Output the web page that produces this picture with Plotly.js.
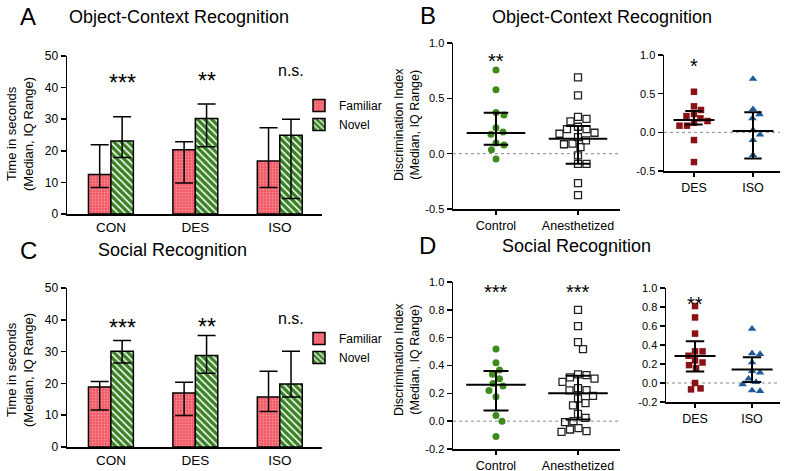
<!DOCTYPE html>
<html><head><meta charset="utf-8">
<script src="https://cdn.plot.ly/plotly-3.0.1.min.js"></script>
<style>html,body{margin:0;padding:0;background:#fff}#chart{width:786px;height:471px}</style>
</head><body><div id="chart"></div>
<script>
// ---------- DATA ----------
// Bar panels (A: Object-Context, C: Social) - median and IQ range
const barCats = ['CON', 'DES', 'ISO'];
const objFamMed = [12.5, 20.3, 16.8];
const objFamLo  = [8.4, 9.8, 8.4];
const objFamHi  = [21.9, 22.9, 27.3];
const objNovMed = [23.1, 30.2, 24.9];
const objNovLo  = [17.9, 21.3, 4.9];
const objNovHi  = [30.8, 34.8, 30.0];
const objSig    = ['***', '**', 'n.s.'];

const socFamMed = [18.9, 17.0, 15.7];
const socFamLo  = [11.6, 9.9, 11.2];
const socFamHi  = [20.6, 20.4, 23.8];
const socNovMed = [30.1, 28.8, 19.8];
const socNovLo  = [26.4, 23.2, 15.7];
const socNovHi  = [33.5, 35.1, 30.1];
const socSig    = ['***', '**', 'n.s.'];

// Discrimination index panels (B: Object-Context, D: Social)
const groupCatsL = ['Control', 'Anesthetized'];
const groupCatsR = ['DES', 'ISO'];

const objControl = [0.757, 0.577, 0.373, 0.349, 0.234, 0.195, 0.175, 0.096, 0.078, 0.036, -0.048];
const objAnest   = [0.69, 0.526, 0.333, 0.315, 0.292, 0.243, 0.222, 0.222, 0.189, 0.18, 0.15, 0.12, 0.09, 0.085, 0.06, -0.015, -0.093, -0.093, -0.267, -0.375];
const objDES     = [0.525, 0.336, 0.289, 0.237, 0.21, 0.181, 0.146, 0.125, 0.086, 0.086, -0.1, -0.384];
const objISO     = [0.69, 0.30, 0.233, 0.181, 0.03, -0.03, -0.1, -0.294];

const socControl = [0.518, 0.42, 0.367, 0.338, 0.305, 0.271, 0.252, 0.221, 0.175, 0.041, 0.0, -0.11];
const socAnest   = [0.80, 0.683, 0.568, 0.518, 0.336, 0.331, 0.314, 0.305, 0.283, 0.237, 0.223, 0.221, 0.182, 0.163, 0.129, 0.113, 0.053, 0.024, 0.0, -0.007, -0.05, -0.06, -0.072, -0.077];
const socDES     = [0.81, 0.69, 0.52, 0.333, 0.333, 0.287, 0.238, 0.216, 0.188, 0.156, 0.0, -0.057, -0.067];
const socISO     = [0.571, 0.312, 0.305, 0.216, 0.124, 0.11, 0.046, 0.01, -0.014, -0.078, -0.085];

// median, Q1, Q3 per group
const objMedL = [0.186, 0.135], objQ1L = [0.081, -0.09], objQ3L = [0.37, 0.25];
const objMedR = [0.159, 0.017], objQ1R = [0.10, -0.337], objQ3R = [0.276, 0.26];
const socMedL = [0.261, 0.201], socQ1L = [0.077, 0.012], socQ3L = [0.36, 0.326];
const socMedR = [0.284, 0.142], socQ1R = [0.12, 0.01], socQ3R = [0.44, 0.27];

const objSigL = ['**', ''], objSigR = ['*', ''];
const socSigL = ['***', '***'], socSigR = ['**', ''];

const ticksB = [-0.5, 0.0, 0.5, 1.0];
const ticksD = [-0.2, 0.0, 0.2, 0.4, 0.6, 0.8, 1.0];
const ticksBar = [0, 10, 20, 30, 40, 50];

// ---------- STYLE / LAYOUT ----------
const W = 786, H = 471;
const FONT = 'Liberation Sans, Arial, Helvetica, sans-serif';
const RED = '#f15b66', GREEN = '#3a8224', DOTGREEN = '#3f8a1c', DESRED = '#8a1215', ISOBLUE = '#1f5b9c';
const px = v => v / W;
const py = v => 1 - v / H;
const sub = (a, b) => a.map((v, i) => v - b[i]);

const traces = [];
const layout = {
  width: W, height: H, margin: {l: 0, r: 0, t: 0, b: 0},
  paper_bgcolor: '#fff', plot_bgcolor: 'rgba(0,0,0,0)',
  font: {family: FONT, color: '#000'},
  showlegend: true, shapes: [], annotations: []
};

function axes(n, box, xr, yr, xtv, xtt, ytv, xticks, xfont, yfont, ytt) {
  const xs = n === 1 ? 'xaxis' : 'xaxis' + n, ys = n === 1 ? 'yaxis' : 'yaxis' + n;
  const xid = n === 1 ? 'x' : 'x' + n, yid = n === 1 ? 'y' : 'y' + n;
  layout[xs] = {domain: [px(box[0]), px(box[1])], range: xr, anchor: yid,
    tickvals: xtv, ticktext: xtt, ticks: xticks, ticklen: 4, tickwidth: 1.5, tickcolor: '#000',
    showline: true, linewidth: 1.5, linecolor: '#000', showgrid: false, zeroline: false,
    tickfont: {size: xfont, color: '#000', family: FONT}, fixedrange: true};
  layout[ys] = {domain: [py(box[3]), py(box[2])], range: yr, anchor: xid,
    tickvals: ytv, ticktext: ytt, ticks: 'outside', ticklen: 5, tickwidth: 1.5, tickcolor: '#000',
    showline: true, linewidth: 1.5, linecolor: '#000', showgrid: false, zeroline: false,
    tickfont: {size: yfont, color: '#000', family: FONT}, fixedrange: true};
  return {xid, yid, pxPerX: (box[1] - box[0]) / (xr[1] - xr[0]), pxPerY: (box[3] - box[2]) / (yr[1] - yr[0])};
}

function ann(text, x, y, size, extra) {
  layout.annotations.push(Object.assign({text, x: px(x), y: py(y), xref: 'paper', yref: 'paper',
    showarrow: false, xanchor: 'center', yanchor: 'middle', font: {size, family: FONT, color: '#000'}}, extra || {}));
}

// ----- Bar panels -----
const BW = 0.266;
function barPanel(n, box, legendId, fam, famLo, famHi, nov, novLo, novHi, sig, sigY) {
  const a = axes(n, box, [-0.52, 2.5], [0, 50], barCats.map((c, i) => i), barCats, ticksBar, '', 13.5, 12);
  const xs = barCats.map((c, i) => i);
  traces.push({type: 'bar', name: 'Familiar', x: xs, y: fam, width: BW, offset: -BW,
    xaxis: a.xid, yaxis: a.yid, legend: legendId, showlegend: true,
    marker: {color: RED, line: {color: '#000', width: 1.5},
      pattern: {shape: '.', fgcolor: '#f98d95', bgcolor: RED, size: 3, solidity: 0.3, fillmode: 'replace'}},
    error_y: {type: 'data', symmetric: false, array: sub(famHi, fam), arrayminus: sub(fam, famLo),
      color: '#000', thickness: 1.5, width: 9}, hoverinfo: 'skip'});
  traces.push({type: 'bar', name: 'Novel', x: xs, y: nov, width: BW, offset: 0,
    xaxis: a.xid, yaxis: a.yid, legend: legendId, showlegend: true,
    marker: {color: GREEN, line: {color: '#000', width: 1.5},
      pattern: {shape: '\\', fgcolor: '#ffffff', bgcolor: GREEN, size: 5, solidity: 0.3, fillmode: 'replace'}},
    error_y: {type: 'data', symmetric: false, array: sub(novHi, nov), arrayminus: sub(nov, novLo),
      color: '#000', thickness: 1.5, width: 9}, hoverinfo: 'skip'});
  sig.forEach((s, i) => {
    const big = s.indexOf('*') >= 0;
    layout.annotations.push({text: s, x: i + BW / 2, xref: a.xid, y: py(sigY[i]), yref: 'paper',
      showarrow: false, xanchor: 'center', yanchor: 'middle',
      font: {size: big ? 23 : 16, family: FONT, color: '#000'}});
  });
}

barPanel(1, [67, 322, 56, 214], 'legend', objFamMed, objFamLo, objFamHi, objNovMed, objNovLo, objNovHi, objSig, [83, 81, 70.5]);
barPanel(2, [67, 322, 288, 447], 'legend2', socFamMed, socFamLo, socFamHi, socNovMed, socNovLo, socNovHi, socSig, [327.5, 326.5, 318.5]);

layout.legend = {x: px(299), y: py(91), xanchor: 'left', yanchor: 'top', bgcolor: 'rgba(0,0,0,0)',
  font: {size: 12, family: FONT, color: '#000'}, tracegroupgap: 0};
layout.legend2 = {x: px(299), y: py(324), xanchor: 'left', yanchor: 'top', bgcolor: 'rgba(0,0,0,0)',
  font: {size: 12, family: FONT, color: '#000'}, tracegroupgap: 0};

// ----- Scatter (dot plot) panels -----
function swarm(vals, pxPerX, pxPerY, diam) {
  const order = vals.map((v, i) => i).sort((a, b) => vals[b] - vals[a]);
  const placed = [], off = new Array(vals.length);
  for (const i of order) {
    const y = vals[i] * pxPerY;
    let best = null;
    for (let s = 0; s < 400 && best === null; s++) {
      const cands = s === 0 ? [0] : [s * 0.5, -s * 0.5];
      for (const c of cands) {
        if (placed.every(p => Math.hypot(p.x - c, p.y - y) >= diam)) { best = c; break; }
      }
    }
    placed.push({x: best, y});
    off[i] = best / pxPerX;
  }
  return off;
}

const fmt = v => v.toFixed(1);
function dotPanel(n, box, xr, yr, ytv, cats, groups, styles, med, q1, q3, medHalf, capHalf, sig, sigY, sigSize) {
  const a = axes(n, box, xr, yr, cats.map((c, i) => i), cats, ytv, 'outside', 12.5, 11, ytv.map(fmt));
  layout.shapes.push({type: 'line', xref: a.xid + ' domain', yref: a.yid, x0: 0, x1: 1, y0: 0, y1: 0,
    line: {color: '#8a8a8a', width: 1, dash: 'dot'}, layer: 'below'});
  groups.forEach((g, gi) => {
    const st = styles[gi];
    const off = swarm(g, a.pxPerX, a.pxPerY, st.diam);
    traces.push({type: 'scatter', mode: 'markers', x: g.map((v, i) => gi + off[i]), y: g,
      xaxis: a.xid, yaxis: a.yid, showlegend: false, hoverinfo: 'skip', marker: st.marker});
  });
  traces.push({type: 'scatter', mode: 'markers', x: cats.map((c, i) => i), y: med,
    xaxis: a.xid, yaxis: a.yid, showlegend: false, hoverinfo: 'skip',
    marker: {size: 1, color: 'rgba(0,0,0,0)'},
    error_x: {type: 'constant', value: medHalf / a.pxPerX, width: 0, thickness: 2, color: '#000'},
    error_y: {type: 'data', symmetric: false, array: sub(q3, med), arrayminus: sub(med, q1),
      width: capHalf, thickness: 2, color: '#000'}});
  sig.forEach((s, i) => {
    if (!s) return;
    layout.annotations.push({text: s, x: i, xref: a.xid, y: py(sigY), yref: 'paper',
      showarrow: false, xanchor: 'center', yanchor: 'middle', font: {size: sigSize, family: FONT, color: '#000'}});
  });
}

const stCtrl = {diam: 8, marker: {symbol: 'circle', size: 7, color: DOTGREEN, line: {width: 0}}};
const stAnest = {diam: 8.5, marker: {symbol: 'square-open', size: 7, color: '#222', line: {width: 1.3}}};
const stDES = {diam: 7.5, marker: {symbol: 'square', size: 6.5, color: DESRED, line: {width: 0}}};
const stISO = {diam: 8, marker: {symbol: 'triangle-up', size: 7.5, color: ISOBLUE, line: {width: 0}}};

dotPanel(3, [453, 620, 43, 209], [-0.524, 1.512], [-0.5, 1.0], ticksB, groupCatsL, [objControl, objAnest],
  [stCtrl, stAnest], objMedL, objQ1L, objQ3L, 29.3, 12.3, objSigL, 61.5, 20);
dotPanel(4, [664, 780, 55, 171], [-0.508, 1.458], [-0.5, 1.0], ticksB, groupCatsR, [objDES, objISO],
  [stDES, stISO], objMedR, objQ1R, objQ3R, 20.5, 8.7, objSigR, 66.5, 20);
dotPanel(5, [453, 620, 282, 449], [-0.524, 1.512], [-0.2, 1.0], ticksD, groupCatsL, [socControl, socAnest],
  [stCtrl, stAnest], socMedL, socQ1L, socQ3L, 29.8, 12.5, socSigL, 291.5, 20);
dotPanel(6, [666, 780, 288, 402], [-0.509, 1.49], [-0.2, 1.0], ticksD, groupCatsR, [socDES, socISO],
  [stDES, stISO], socMedR, socQ1R, socQ3R, 20.5, 9.2, socSigR, 303.5, 20);

// ----- Titles and axis titles -----
ann('A', 27.5, 16.5, 24);
ann('Object-Context Recognition', 67, 17, 18, {xanchor: 'left'});
ann('B', 427.5, 16, 24);
ann('Object-Context Recognition', 490, 17, 18, {xanchor: 'left'});
ann('C', 28.5, 250, 24);
ann('Social Recognition', 96, 250, 18, {xanchor: 'left'});
ann('D', 427.5, 245, 24);
ann('Social Recognition', 500, 246, 18, {xanchor: 'left'});

ann('Time in seconds<br>(Median, IQ Range)', 20, 134, 13, {textangle: -90});
ann('Time in seconds<br>(Median, IQ Range)', 20, 370, 13, {textangle: -90});
ann('Discrimination Index<br>(Median, IQ Range)', 407, 125, 12.5, {textangle: -90});
ann('Discrimination Index<br>(Median, IQ Range)', 407, 360, 12.5, {textangle: -90});

Plotly.newPlot('chart', traces, layout, {staticPlot: true, displayModeBar: false});
</script>
</body></html>
